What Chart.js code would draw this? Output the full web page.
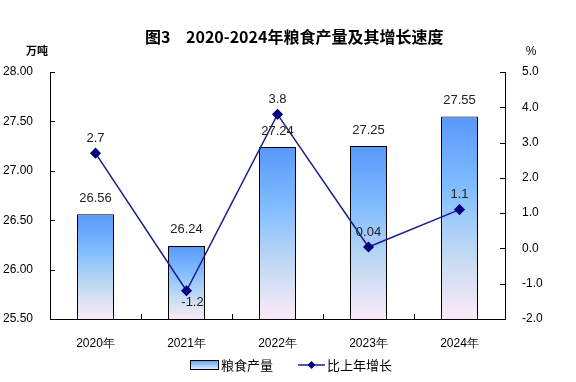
<!DOCTYPE html>
<html>
<head>
<meta charset="utf-8">
<script src="https://cdn.jsdelivr.net/npm/chart.js@4"></script>
<style>
  html,body{margin:0;padding:0;background:#fff;}
  #wrap{width:576px;height:382px;}
</style>
</head>
<body>
<div id="wrap"><canvas id="c" width="576" height="382"></canvas></div>
<script>
const years = ['2020年','2021年','2022年','2023年','2024年'];
const output = [26.56, 26.24, 27.24, 27.25, 27.55];
const growth = [2.7, -1.2, 3.8, 0.04, 1.1];
const growthText = ['2.7','-1.2','3.8','0.04','1.1'];
const leftTicks = [25.5, 28.0];
const rightTicks = [-2.0, 5.0];

const FONT = '"Liberation Sans", Arial, sans-serif';
const CJK = '"Noto Sans CJK SC", sans-serif';

function barFill(ctx, top, bottom){
  const g = ctx.createLinearGradient(0, top, 0, bottom);
  g.addColorStop(0, '#5898fa');
  g.addColorStop(0.35, '#80bdff');
  g.addColorStop(0.72, '#c9dcf2');
  g.addColorStop(1, '#fbeaf8');
  return g;
}

const extras = {
  id: 'extras',
  afterDraw(chart){
    const {ctx, chartArea: a} = chart;
    const y = chart.scales.y, y1 = chart.scales.y1, x = chart.scales.x;
    ctx.save();
    // inward tick marks
    ctx.strokeStyle = '#000'; ctx.lineWidth = 1;
    ctx.beginPath();
    y.ticks.forEach(t => { const p = Math.round(y.getPixelForValue(t.value)) + 0.5; ctx.moveTo(a.left, p); ctx.lineTo(a.left + 5, p); });
    y1.ticks.forEach(t => { const p = Math.round(y1.getPixelForValue(t.value)) + 0.5; ctx.moveTo(a.right, p); ctx.lineTo(a.right - 5, p); });
    for (let i = 1; i < years.length; i++) {
      const p = Math.round((x.getPixelForValue(i - 1) + x.getPixelForValue(i)) / 2) + 0.5;
      ctx.moveTo(p, a.bottom); ctx.lineTo(p, a.bottom - 5);
    }
    ctx.stroke();

    ctx.fillStyle = '#000';
    ctx.font = 'bold 16px ' + CJK;
    ctx.textBaseline = 'middle';
    ctx.textAlign = 'left';
    ctx.fillText('图3', 145, 37);
    ctx.fillText('2020-2024年粮食产量及其增长速度', 186, 37);
    ctx.textAlign = 'center';
    ctx.font = 'bold 11px ' + CJK;
    ctx.fillText('万吨', 37, 51);
    ctx.font = '12px ' + FONT;
    ctx.fillText('%', 531, 52);
    // bar labels
    ctx.fillStyle = '#222';
    ctx.font = '13px ' + FONT;
    output.forEach((v, i) => {
      ctx.fillText(v.toFixed(2), x.getPixelForValue(i), y.getPixelForValue(v) - 16);
    });
    // line labels
    growth.forEach((v, i) => {
      const px = x.getPixelForValue(i), py = y1.getPixelForValue(v);
      if (v < 0) ctx.fillText(growthText[i], px + 6, py + 12);
      else ctx.fillText(growthText[i], px, py - 15);
    });

    // legend
    const g = ctx.createLinearGradient(0, 360, 0, 370);
    g.addColorStop(0, '#5a9bf8'); g.addColorStop(0.5, '#9cc8ff'); g.addColorStop(1, '#f4eefa');
    ctx.fillStyle = g; ctx.fillRect(190.5, 360.5, 28, 9);
    ctx.strokeStyle = '#000'; ctx.lineWidth = 1;
    ctx.strokeRect(190.5, 360.5, 28, 9);
    ctx.strokeStyle = '#1c1c8c'; ctx.lineWidth = 1.5;
    ctx.beginPath(); ctx.moveTo(298, 365); ctx.lineTo(325, 365); ctx.stroke();
    ctx.fillStyle = '#000080';
    ctx.beginPath(); ctx.moveTo(311.5, 361); ctx.lineTo(315.5, 365); ctx.lineTo(311.5, 369); ctx.lineTo(307.5, 365); ctx.closePath(); ctx.fill();
    ctx.fillStyle = '#000'; ctx.font = '13px ' + CJK; ctx.textAlign = 'left';
    ctx.fillText('粮食产量', 221, 365);
    ctx.fillText('比上年增长', 327, 365);
    ctx.restore();
  }
};

new Chart(document.getElementById('c'), {
  data: {
    labels: years,
    datasets: [
      {
        type: 'line', label: '比上年增长', data: growth, yAxisID: 'y1', order: 0,
        borderColor: '#1c1c8c', borderWidth: 1.5, pointStyle: 'rectRot',
        pointRadius: 4.5, pointBackgroundColor: '#000080', pointBorderColor: '#000080',
        tension: 0
      },
      {
        type: 'bar', label: '粮食产量', data: output, yAxisID: 'y', order: 1,
        borderColor: '#000', borderWidth: 1, borderSkipped: false, inflateAmount: 0,
        categoryPercentage: 1, barPercentage: 37 / 91,
        backgroundColor(c){
          const ch = c.chart, a = ch.chartArea;
          if (!a || c.raw === undefined) return '#7fbcff';
          return barFill(ch.ctx, ch.scales.y.getPixelForValue(c.raw), a.bottom);
        }
      }
    ]
  },
  options: {
    responsive: false, animation: false,
    layout: {padding: {top: 72, left: 0, right: 0, bottom: 33}},
    plugins: {
      title: {display: false},
      tooltip: {enabled: false},
      legend: {display: false}
    },
    scales: {
      x: {
        offset: true,
        grid: {display: false},
        border: {color: '#000', width: 1},
        ticks: {color: '#000', font: {family: FONT, size: 12}, padding: 9},
        afterFit(s){ s.height = 30; }
      },
      y: {
        position: 'left', min: leftTicks[0], max: leftTicks[1],
        grid: {display: false},
        border: {color: '#000', width: 1},
        ticks: {stepSize: 0.5, color: '#000', font: {family: FONT, size: 12}, padding: 9,
                callback: v => Number(v).toFixed(2)},
        afterFit(s){ s.width = 50; }
      },
      y1: {
        position: 'right', min: rightTicks[0], max: rightTicks[1],
        grid: {display: false},
        border: {color: '#000', width: 1},
        ticks: {stepSize: 1, color: '#000', font: {family: FONT, size: 12}, padding: 9,
                callback: v => Number(v).toFixed(1)},
        afterFit(s){ s.width = 71; }
      }
    }
  },
  plugins: [extras]
});
</script>
</body>
</html>
